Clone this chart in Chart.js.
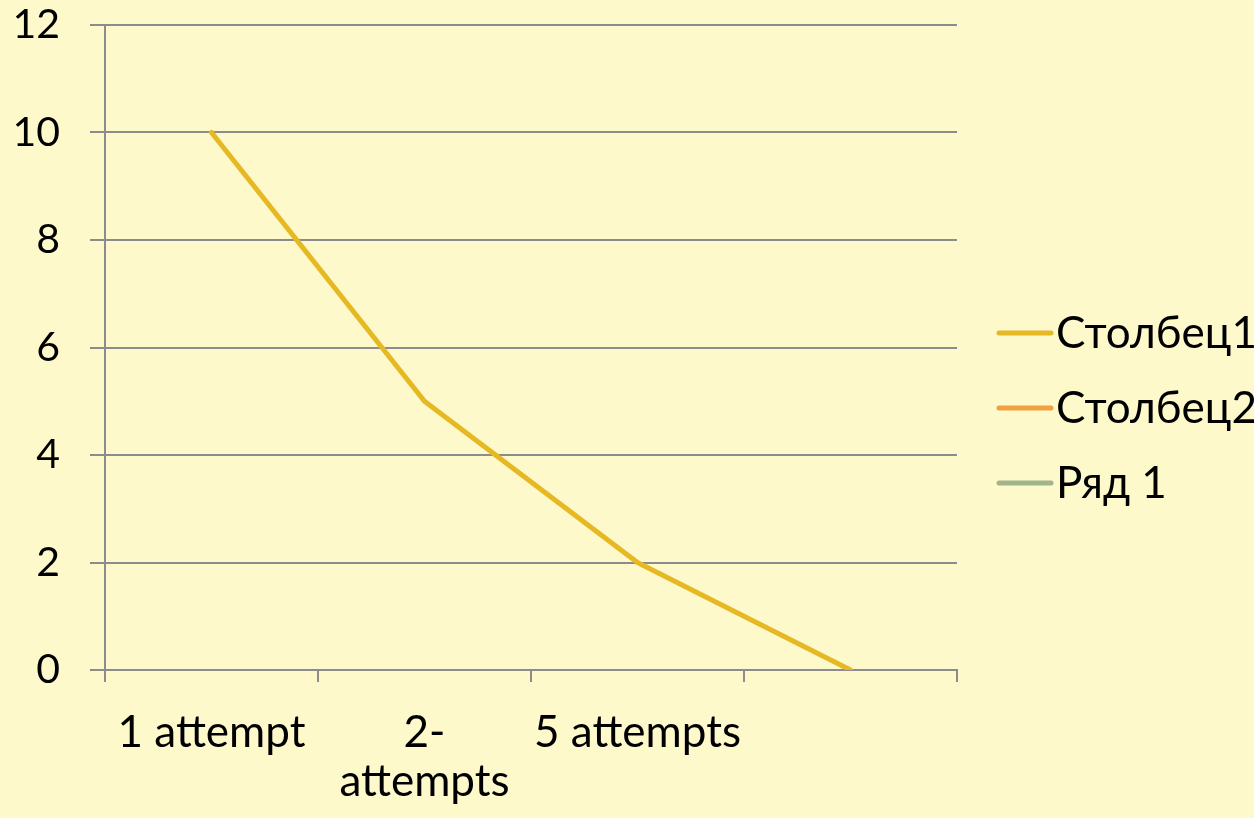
<!DOCTYPE html>
<html>
<head>
<meta charset="utf-8">
<script src="https://cdn.jsdelivr.net/npm/chart.js@4"></script>
<style>
html,body{margin:0;padding:0;background:#fef9cb}
#wrap{width:1254px;height:818px;position:relative}
</style>
</head>
<body>
<div id="wrap"><canvas id="c"></canvas></div>
<script>
const labels = ['1 attempt', ['2-', 'attempts'], '5 attempts', ''];
const seriesNames = ['Столбец1', 'Столбец2', 'Ряд 1'];
const col1 = [10, 5, 2, 0];
const col2 = [null, null, null, null];
const row1 = [null, null, null, null];
const colors = ['#e6b823', '#f0a040', '#a2b48c'];
const yTicks = [0, 2, 4, 6, 8, 10, 12];

const FONT = 'Lato, "Open Sans", sans-serif';
const grey = '#8c8c8c';

// legend drawn by hand so the short line + text gap match
const sideLegend = {
  id: 'sideLegend',
  afterDraw(chart){
    const ctx = chart.ctx;
    ctx.save();
    ctx.font = '44px ' + FONT;
    ctx.textBaseline = 'middle';
    ctx.fillStyle = '#000';
    chart.data.datasets.forEach((ds,i)=>{
      const y = 333 + i*75;
      ctx.strokeStyle = ds.borderColor;
      ctx.lineWidth = 5;
      ctx.lineCap = 'round';
      ctx.beginPath(); ctx.moveTo(999,y); ctx.lineTo(1051,y); ctx.stroke();
      ctx.fillText(ds.label, 1056, y+1);
    });
    ctx.restore();
  }
};

new Chart(document.getElementById('c'), {
  type: 'line',
  data: {
    labels,
    datasets: [col1, col2, row1].map((d,i)=>({
      label: seriesNames[i], data: d, borderColor: colors[i], backgroundColor: colors[i],
      borderWidth: 5, pointRadius: 0, tension: 0, borderCapStyle: 'round', borderJoinStyle: 'round'
    }))
  },
  options: {
    responsive: true, maintainAspectRatio: false, animation: false,
    layout: {padding: {top: 0, right: 297, left: 0, bottom: 0}},
    plugins: {legend: {display: false}, tooltip: {enabled: false}},
    scales: {
      x: {
        offset: true,
        grid: {offset: true, drawOnChartArea: false, drawTicks: true, tickLength: 12, color: grey, lineWidth: 2},
        border: {display: true, color: grey, width: 2},
        ticks: {color: '#000', font: {family: FONT, size: 44, lineHeight: 1.1}, padding: 27, maxRotation: 0, autoSkip: false},
        afterFit(s){ s.height = 148; }
      },
      y: {
        min: 0, max: 12,
        afterBuildTicks(s){ s.ticks = yTicks.map(v=>({value:v})); },
        grid: {color: grey, lineWidth: 2, tickLength: 15},
        border: {display: true, color: grey, width: 2},
        ticks: {color: '#000', font: {family: FONT, size: 41, lineHeight: 1.2}, padding: 30},
        afterFit(s){ s.width = 105; s.paddingTop = 25; }
      }
    }
  },
  plugins: [sideLegend]
});
</script>
</body>
</html>
